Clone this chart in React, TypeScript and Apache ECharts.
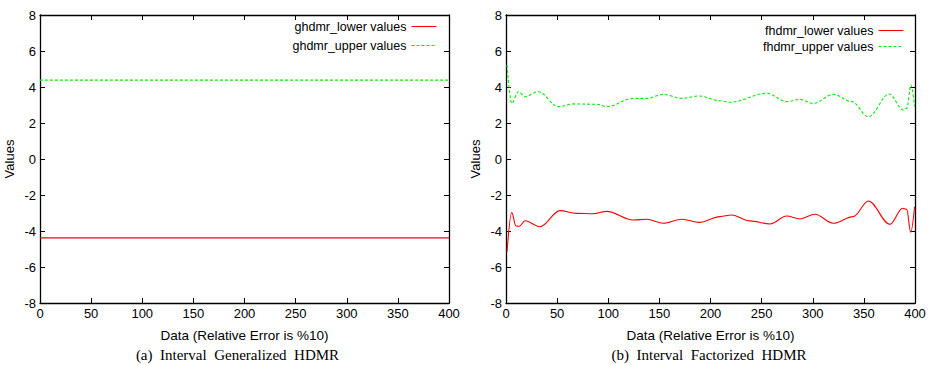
import React, { useEffect, useRef } from "react";
import * as echarts from "echarts";

const ghdmrLower: [number, number][] = [
  [0, -4.38],
  [400, -4.38],
];
const ghdmrUpper: [number, number][] = [
  [0, 4.38],
  [400, 4.38],
];

const fhdmrLower: [number, number][] = [
  [1, -5.15], [5.6, -2.98], [9.8, -3.72], [13, -3.74], [18.6, -3.43], [33.3, -3.76],
  [52.8, -2.87], [69, -3.02], [85.3, -3.04], [98.5, -2.91], [124.5, -3.39], [137.6, -3.35],
  [153.8, -3.57], [171.8, -3.35], [189, -3.52], [209.3, -3.2], [220.7, -3.11], [238.6, -3.44],
  [258.2, -3.61], [274.5, -3.17], [287.5, -3.33], [302.2, -3.07], [320, -3.57], [339.7, -3.2],
  [354.4, -2.33], [375.5, -3.63], [387.9, -2.74], [391.9, -2.8], [395.8, -4.07], [399.6, -2.65],
];

const fhdmrUpper: [number, number][] = [
  [1, 5.22], [5.6, 3.09], [12, 3.74], [18.6, 3.46], [31.6, 3.74], [51.2, 2.91],
  [65.8, 3.06], [88.7, 3.04], [98.5, 2.91], [124.5, 3.37], [137.6, 3.37], [153.8, 3.59],
  [171.8, 3.37], [188.5, 3.5], [209.3, 3.24], [219, 3.15], [255, 3.65], [274.5, 3.19],
  [287.5, 3.31], [300.5, 3.09], [320, 3.59], [338.2, 3.19], [354.4, 2.35], [374.8, 3.61],
  [388.5, 2.72], [391.9, 2.81], [396.1, 4.11], [399.6, 2.91],
];

const xMin = 0, xMax = 400, xStep = 50;
const yMin = -8, yMax = 8, yStep = 2;

const legendLeft = ["ghdmr_lower values", "ghdmr_upper values"];
const legendRight = ["fhdmr_lower values", "fhdmr_upper values"];
const captions = ["(a)  Interval  Generalized  HDMR", "(b)  Interval  Factorized  HDMR"];
const xTitle = "Data (Relative Error is %10)";
const yTitle = "Values";

const SANS = "'Liberation Sans', Arial, Helvetica, sans-serif";
const SERIF = "'Liberation Serif', 'Times New Roman', serif";
const RED = "#ff0000";
const GREEN = "#00ee00";

export default function App() {
  const ref = useRef<HTMLDivElement>(null);
  useEffect(() => {
    document.body.style.margin = "0";
    if (!ref.current) return;
    const chart = echarts.init(ref.current, undefined, { renderer: "svg" });
    const axisLine = { show: true, onZero: false, lineStyle: { color: "#000", width: 1.3 } };
    const tick = { show: true, inside: true, length: 5, lineStyle: { color: "#000", width: 1 } };
    const grids = [
      { left: 40, top: 15, width: 409, height: 288 },
      { left: 506, top: 15, width: 409, height: 288 },
    ];
    const xAxes: any[] = [];
    const yAxes: any[] = [];
    grids.forEach((_, gi) => {
      xAxes.push({
        type: "value", gridIndex: gi, position: "bottom", min: xMin, max: xMax, interval: xStep,
        axisLine, axisTick: tick, splitLine: { show: false },
        axisLabel: { color: "#000", fontSize: 13, fontFamily: SANS, margin: 4 },
        name: xTitle, nameLocation: "middle", nameGap: 25,
        nameTextStyle: { color: "#000", fontSize: 13.5, fontFamily: SANS },
      });
      xAxes.push({
        type: "value", gridIndex: gi, position: "top", min: xMin, max: xMax, interval: xStep,
        axisLine, axisTick: tick, splitLine: { show: false }, axisLabel: { show: false },
      });
      yAxes.push({
        type: "value", gridIndex: gi, position: "left", min: yMin, max: yMax, interval: yStep,
        axisLine, axisTick: tick, splitLine: { show: false },
        axisLabel: { color: "#000", fontSize: 13, fontFamily: SANS, margin: 4 },
        name: yTitle, nameLocation: "middle", nameGap: 24, nameRotate: 90,
        nameTextStyle: { color: "#000", fontSize: 13, fontFamily: SANS },
      });
      yAxes.push({
        type: "value", gridIndex: gi, position: "right", min: yMin, max: yMax, interval: yStep,
        axisLine, axisTick: tick, splitLine: { show: false }, axisLabel: { show: false },
      });
    });
    const mk = (name: string, data: [number, number][], gi: number, color: string, dashed: boolean) => ({
      type: "line", name, data, xAxisIndex: gi * 2, yAxisIndex: gi * 2,
      symbol: "none", smooth: 0.35, smoothMonotone: "x",
      lineStyle: { color, width: 1.1, type: dashed ? [3, 2] : "solid" },
      itemStyle: { color },
    });
    const legendCommon = {
      orient: "vertical", align: "right", itemWidth: 25, itemHeight: 10,
      textStyle: { color: "#000", fontSize: 12.5, fontFamily: SANS },
      itemStyle: { opacity: 0 },
      lineStyle: { width: 1.1 },
      selectedMode: false, padding: 0,
    };
    chart.setOption({
      animation: false,
      textStyle: { fontFamily: SANS },
      grid: grids,
      xAxis: xAxes,
      yAxis: yAxes,
      legend: [
        { ...legendCommon, data: legendLeft, right: 494, top: 20, itemGap: 6 },
        { ...legendCommon, data: legendRight, right: 27, top: 24, itemGap: 3 },
      ],
      series: [
        mk(legendLeft[0], ghdmrLower, 0, RED, false),
        mk(legendLeft[1], ghdmrUpper, 0, GREEN, true),
        mk(legendRight[0], fhdmrLower, 1, RED, false),
        mk(legendRight[1], fhdmrUpper, 1, GREEN, true),
      ],
      graphic: [
        { type: "text", x: 237.5, y: 347, style: { text: captions[0], fill: "#000", font: `15px ${SERIF}`, textAlign: "center" } },
        { type: "text", x: 709, y: 347, style: { text: captions[1], fill: "#000", font: `15px ${SERIF}`, textAlign: "center" } },
      ],
    });
    return () => chart.dispose();
  }, []);
  return <div ref={ref} style={{ width: 931, height: 365 }} />;
}
